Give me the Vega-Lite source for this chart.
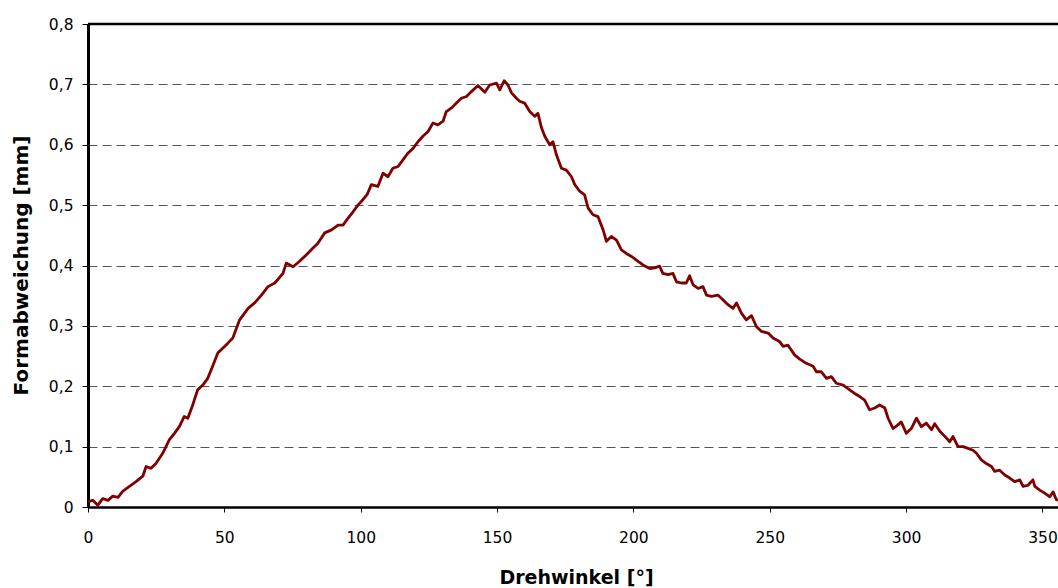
{
 "$schema": "https://vega.github.io/schema/vega-lite/v6.json",
 "width": 970,
 "height": 483,
 "autosize": {"type": "none"},
 "padding": {"left": 88, "top": 24, "right": 0, "bottom": 81},
 "background": "white",
 "config": {
  "view": {"stroke": null},
  "font": "DejaVu Sans",
  "axis": {
   "domainColor": "black",
   "domainWidth": 2.5,
   "tickColor": "black",
   "tickWidth": 1,
   "labelFont": "DejaVu Sans",
   "labelFontSize": 15.5,
   "labelColor": "black",
   "titleFont": "DejaVu Sans",
   "titleFontSize": 20,
   "titleFontWeight": "bold",
   "titleColor": "black",
   "labelOverlap": false,
   "labelFlush": false
  }
 },
 "data": {"values": [
  {"deg": 0, "val": 0.009}, {"deg": 1.8, "val": 0.011}, {"deg": 3.6, "val": 0.003}, {"deg": 5.4, "val": 0.014},
  {"deg": 7.3, "val": 0.011}, {"deg": 9.1, "val": 0.018}, {"deg": 11.0, "val": 0.016}, {"deg": 12.7, "val": 0.026},
  {"deg": 15.2, "val": 0.034}, {"deg": 17.6, "val": 0.042}, {"deg": 20.1, "val": 0.051}, {"deg": 21.3, "val": 0.067},
  {"deg": 23.1, "val": 0.064}, {"deg": 24.9, "val": 0.072}, {"deg": 27.4, "val": 0.089}, {"deg": 29.8, "val": 0.111},
  {"deg": 31.7, "val": 0.122}, {"deg": 33.5, "val": 0.133}, {"deg": 35.3, "val": 0.150}, {"deg": 36.6, "val": 0.147},
  {"deg": 38.4, "val": 0.169}, {"deg": 40.2, "val": 0.194}, {"deg": 42.1, "val": 0.202}, {"deg": 43.9, "val": 0.213},
  {"deg": 45.7, "val": 0.233}, {"deg": 47.6, "val": 0.255}, {"deg": 49.4, "val": 0.263}, {"deg": 51.2, "val": 0.271},
  {"deg": 53.1, "val": 0.280}, {"deg": 55.6, "val": 0.310}, {"deg": 58.7, "val": 0.329}, {"deg": 61.1, "val": 0.338},
  {"deg": 63.6, "val": 0.351}, {"deg": 66.0, "val": 0.365}, {"deg": 68.5, "val": 0.371}, {"deg": 71.5, "val": 0.387},
  {"deg": 72.7, "val": 0.404}, {"deg": 75.2, "val": 0.398}, {"deg": 77.6, "val": 0.407}, {"deg": 80.1, "val": 0.418},
  {"deg": 82.5, "val": 0.429}, {"deg": 84.3, "val": 0.437}, {"deg": 86.8, "val": 0.454}, {"deg": 89.3, "val": 0.459},
  {"deg": 91.7, "val": 0.467}, {"deg": 93.5, "val": 0.467}, {"deg": 95.3, "val": 0.478}, {"deg": 97.2, "val": 0.489},
  {"deg": 99.0, "val": 0.500}, {"deg": 100.8, "val": 0.509}, {"deg": 102.4, "val": 0.518}, {"deg": 103.9, "val": 0.534},
  {"deg": 106.3, "val": 0.531}, {"deg": 108.2, "val": 0.553}, {"deg": 110.0, "val": 0.547}, {"deg": 111.8, "val": 0.561},
  {"deg": 113.7, "val": 0.564}, {"deg": 115.5, "val": 0.575}, {"deg": 117.3, "val": 0.586}, {"deg": 119.2, "val": 0.594},
  {"deg": 121.0, "val": 0.605}, {"deg": 122.8, "val": 0.614}, {"deg": 124.7, "val": 0.622}, {"deg": 126.5, "val": 0.636},
  {"deg": 128.3, "val": 0.633}, {"deg": 130.2, "val": 0.639}, {"deg": 131.4, "val": 0.655}, {"deg": 133.3, "val": 0.661},
  {"deg": 135.1, "val": 0.669}, {"deg": 136.9, "val": 0.677}, {"deg": 138.8, "val": 0.680}, {"deg": 140.6, "val": 0.688},
  {"deg": 143.0, "val": 0.698}, {"deg": 145.5, "val": 0.687}, {"deg": 147.3, "val": 0.699}, {"deg": 149.8, "val": 0.702},
  {"deg": 151.0, "val": 0.691}, {"deg": 152.6, "val": 0.706}, {"deg": 154.0, "val": 0.699}, {"deg": 155.3, "val": 0.686},
  {"deg": 157.1, "val": 0.677}, {"deg": 158.3, "val": 0.672}, {"deg": 160.1, "val": 0.669}, {"deg": 162.0, "val": 0.655},
  {"deg": 163.8, "val": 0.647}, {"deg": 165.0, "val": 0.652}, {"deg": 166.3, "val": 0.628}, {"deg": 167.5, "val": 0.614},
  {"deg": 169.3, "val": 0.600}, {"deg": 170.5, "val": 0.605}, {"deg": 171.8, "val": 0.583}, {"deg": 173.6, "val": 0.561},
  {"deg": 175.4, "val": 0.558}, {"deg": 177.3, "val": 0.547}, {"deg": 178.5, "val": 0.534}, {"deg": 180.3, "val": 0.523},
  {"deg": 182.1, "val": 0.517}, {"deg": 183.4, "val": 0.495}, {"deg": 185.2, "val": 0.484}, {"deg": 187.0, "val": 0.481},
  {"deg": 188.9, "val": 0.459}, {"deg": 190.1, "val": 0.440}, {"deg": 191.9, "val": 0.448}, {"deg": 193.8, "val": 0.442},
  {"deg": 195.6, "val": 0.426}, {"deg": 197.4, "val": 0.420}, {"deg": 199.3, "val": 0.415}, {"deg": 201.1, "val": 0.409},
  {"deg": 203.5, "val": 0.401}, {"deg": 206.0, "val": 0.395}, {"deg": 207.8, "val": 0.396}, {"deg": 209.6, "val": 0.399},
  {"deg": 210.8, "val": 0.387}, {"deg": 212.7, "val": 0.385}, {"deg": 214.5, "val": 0.387}, {"deg": 215.8, "val": 0.373},
  {"deg": 217.6, "val": 0.371}, {"deg": 219.4, "val": 0.371}, {"deg": 220.6, "val": 0.383}, {"deg": 221.9, "val": 0.368},
  {"deg": 223.7, "val": 0.362}, {"deg": 225.5, "val": 0.365}, {"deg": 226.8, "val": 0.351}, {"deg": 228.6, "val": 0.349},
  {"deg": 231.0, "val": 0.351}, {"deg": 232.9, "val": 0.343}, {"deg": 234.7, "val": 0.335}, {"deg": 236.5, "val": 0.329},
  {"deg": 237.8, "val": 0.338}, {"deg": 239.6, "val": 0.321}, {"deg": 241.4, "val": 0.310}, {"deg": 243.3, "val": 0.317},
  {"deg": 245.1, "val": 0.299}, {"deg": 246.9, "val": 0.291}, {"deg": 249.4, "val": 0.288}, {"deg": 251.2, "val": 0.280},
  {"deg": 253.6, "val": 0.274}, {"deg": 254.9, "val": 0.266}, {"deg": 256.7, "val": 0.268}, {"deg": 259.1, "val": 0.252},
  {"deg": 261.0, "val": 0.245}, {"deg": 263.4, "val": 0.238}, {"deg": 265.9, "val": 0.233}, {"deg": 267.1, "val": 0.224},
  {"deg": 268.9, "val": 0.224}, {"deg": 270.8, "val": 0.213}, {"deg": 272.6, "val": 0.216}, {"deg": 274.4, "val": 0.205},
  {"deg": 276.9, "val": 0.202}, {"deg": 279.3, "val": 0.194}, {"deg": 281.1, "val": 0.188}, {"deg": 283.0, "val": 0.183},
  {"deg": 284.8, "val": 0.177}, {"deg": 286.6, "val": 0.161}, {"deg": 288.5, "val": 0.164}, {"deg": 290.3, "val": 0.169},
  {"deg": 292.2, "val": 0.164}, {"deg": 293.4, "val": 0.147}, {"deg": 295.2, "val": 0.130}, {"deg": 297.0, "val": 0.136},
  {"deg": 298.2, "val": 0.141}, {"deg": 300.1, "val": 0.122}, {"deg": 301.9, "val": 0.130}, {"deg": 303.8, "val": 0.147},
  {"deg": 305.6, "val": 0.133}, {"deg": 307.4, "val": 0.139}, {"deg": 309.3, "val": 0.128}, {"deg": 310.5, "val": 0.138},
  {"deg": 312.3, "val": 0.126}, {"deg": 314.2, "val": 0.117}, {"deg": 316.0, "val": 0.108}, {"deg": 317.2, "val": 0.117},
  {"deg": 319.0, "val": 0.100}, {"deg": 320.9, "val": 0.100}, {"deg": 322.7, "val": 0.097}, {"deg": 324.5, "val": 0.094},
  {"deg": 325.8, "val": 0.089}, {"deg": 327.6, "val": 0.078}, {"deg": 329.4, "val": 0.072}, {"deg": 331.3, "val": 0.067},
  {"deg": 332.5, "val": 0.059}, {"deg": 334.3, "val": 0.061}, {"deg": 336.2, "val": 0.053}, {"deg": 338.0, "val": 0.048},
  {"deg": 339.8, "val": 0.042}, {"deg": 341.7, "val": 0.045}, {"deg": 342.9, "val": 0.034}, {"deg": 344.7, "val": 0.036},
  {"deg": 346.5, "val": 0.045}, {"deg": 347.2, "val": 0.034}, {"deg": 349.0, "val": 0.028}, {"deg": 350.8, "val": 0.023},
  {"deg": 352.7, "val": 0.017}, {"deg": 353.9, "val": 0.025}, {"deg": 355.1, "val": 0.012}, {"deg": 357.0, "val": 0.010},
  {"deg": 360.0, "val": 0.008}
 ]},
 "layer": [
  {
   "mark": {"type": "line", "color": "#800000", "strokeWidth": 2.8, "clip": true, "strokeJoin": "round"},
   "encoding": {
    "x": {
     "field": "deg", "type": "quantitative",
     "scale": {"domain": [0, 355.7], "nice": false, "zero": false},
     "axis": {
      "values": [0, 50, 100, 150, 200, 250, 300, 350],
      "grid": false,
      "tickSize": 5,
      "labelPadding": 18,
      "title": "Drehwinkel [°]",
      "titleFontSize": 19,
      "titleX": 488,
      "titleY": 76,
      "titleAlign": "center",
      "titleBaseline": "alphabetic"
     }
    },
    "y": {
     "field": "val", "type": "quantitative",
     "scale": {"domain": [0, 0.8], "nice": false},
     "axis": {
      "values": [0, 0.1, 0.2, 0.3, 0.4, 0.5, 0.6, 0.7, 0.8],
      "labelExpr": "datum.value == 0 ? '0' : replace(format(datum.value, '.1f'), '.', ',')",
      "grid": true,
      "gridColor": "#555555",
      "gridDash": [9, 5],
      "gridWidth": 1,
      "tickSize": 6,
      "labelPadding": 9,
      "domainWidth": 3,
      "title": "Formabweichung [mm]",
      "titleAngle": 270,
      "titleX": -61,
      "titleY": 241,
      "titleAlign": "center",
      "titleBaseline": "alphabetic"
     }
    }
   }
  },
  {
   "data": {"values": [{"top": 0.8}]},
   "mark": {"type": "rule", "color": "black", "strokeWidth": 2.5},
   "encoding": {"y": {"datum": 0.8}}
  }
 ]
}
